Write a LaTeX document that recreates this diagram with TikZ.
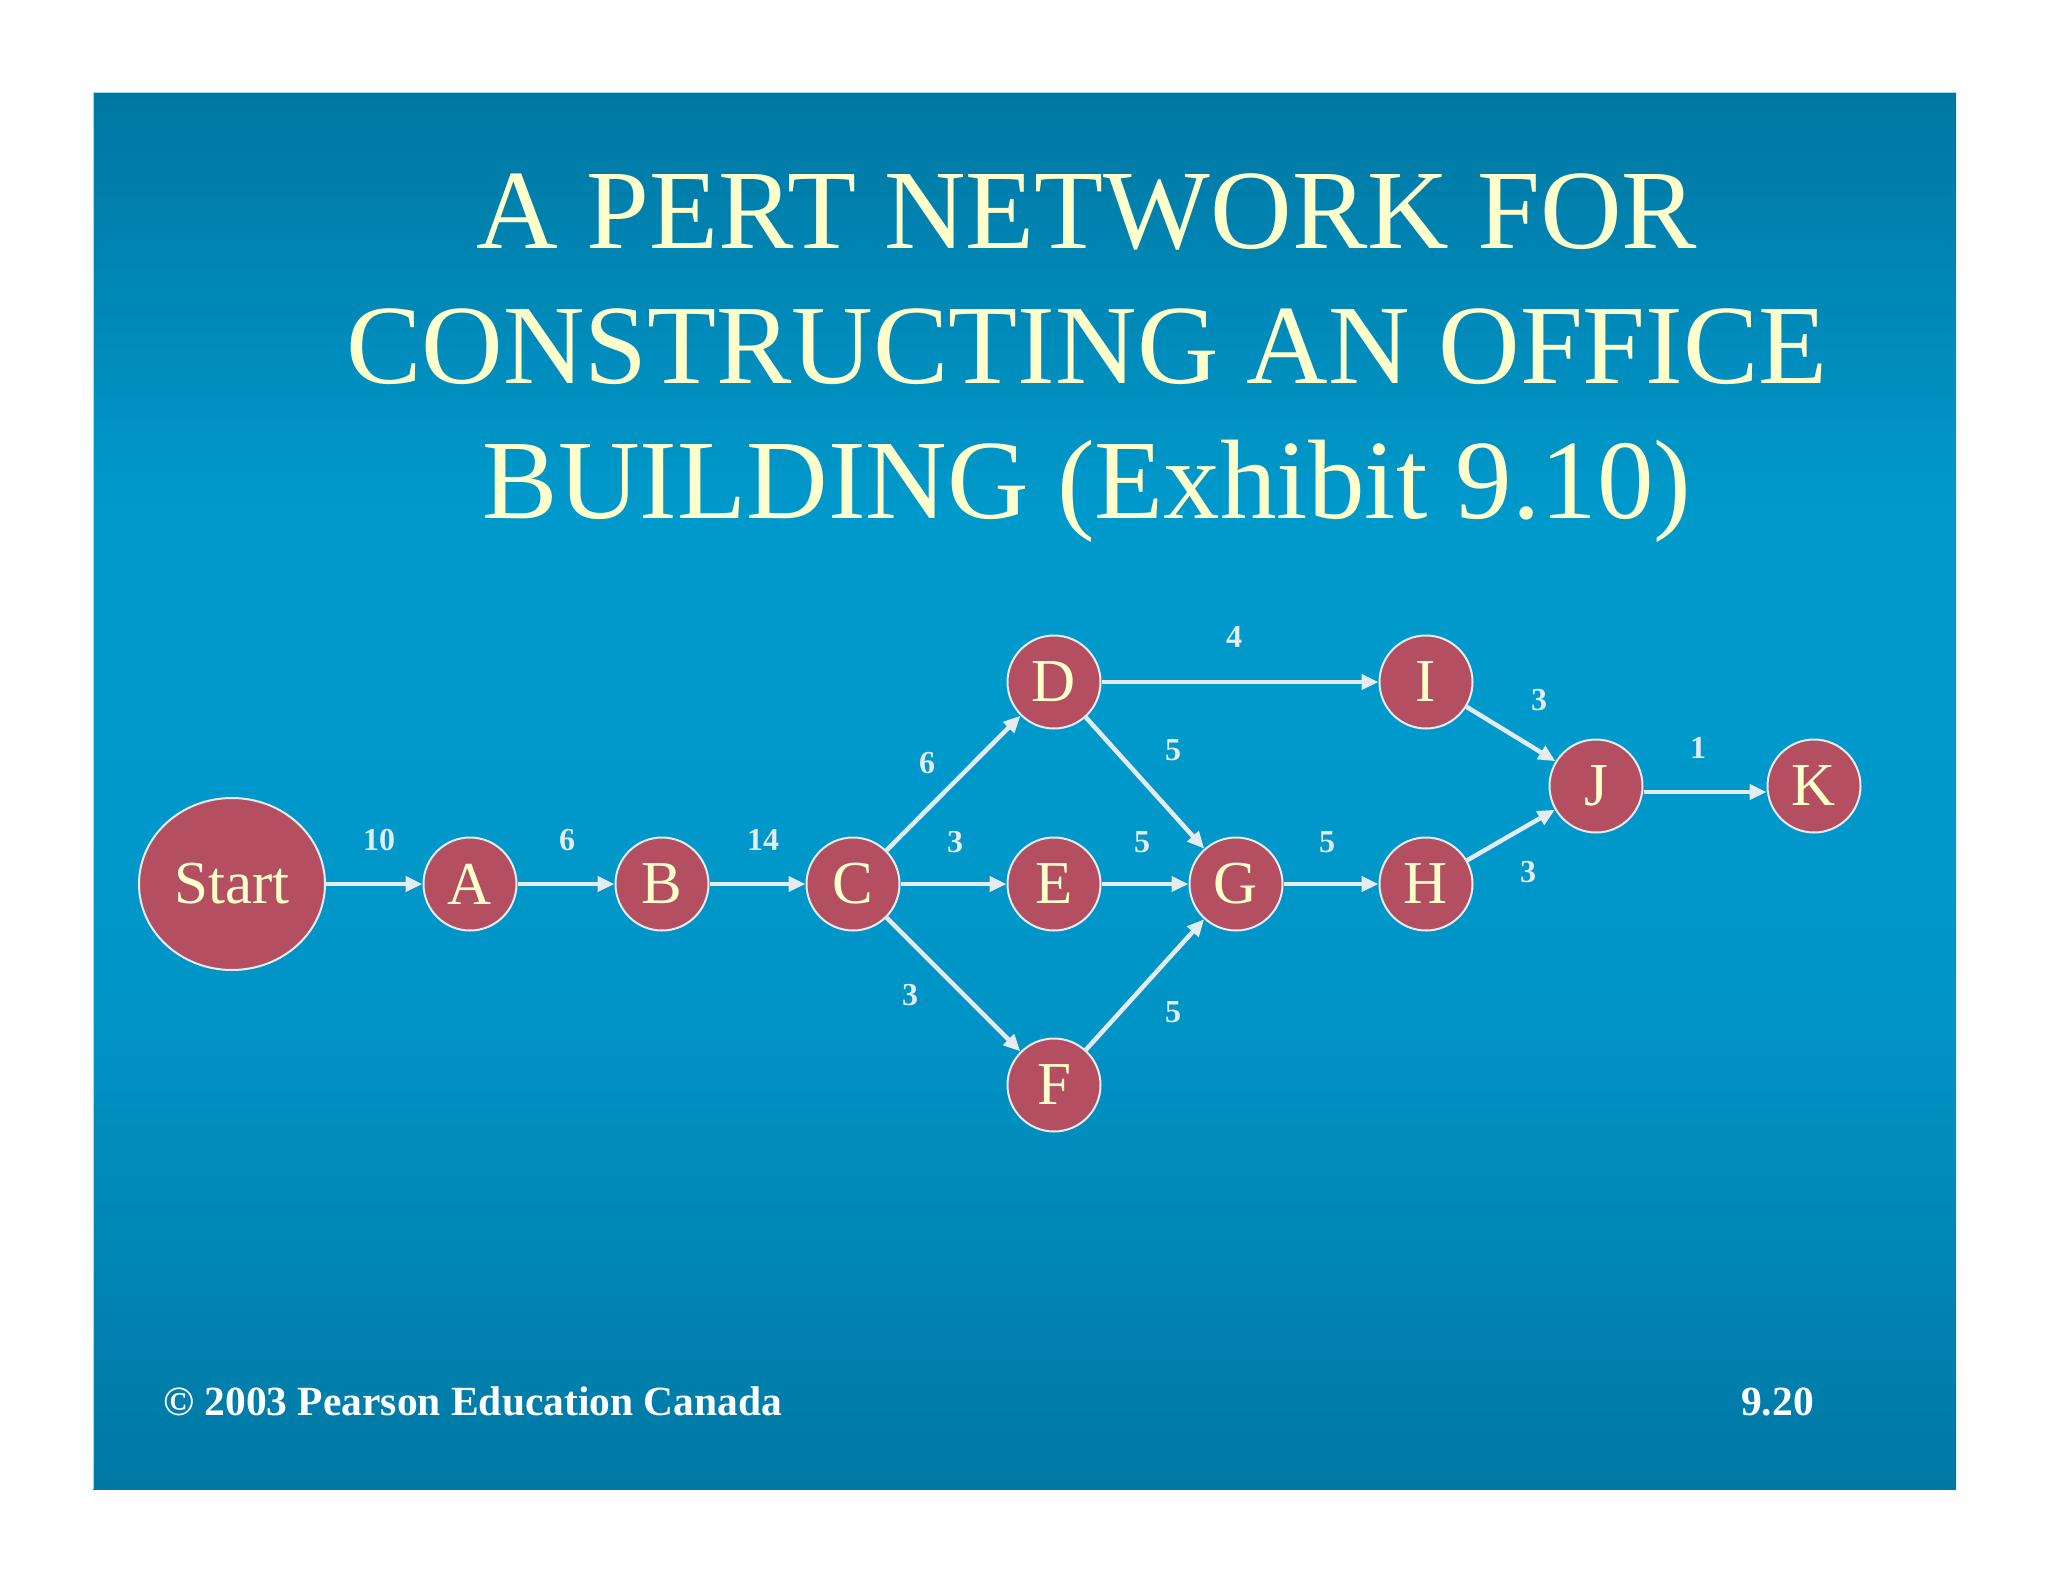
\documentclass[tikz,border=0pt]{standalone}
\usepackage{fontspec}
\setmainfont{Liberation Serif}
\usetikzlibrary{arrows.meta}
\definecolor{bgtop}{HTML}{0077A2}
\definecolor{bgmid}{HTML}{0099CC}
\definecolor{bgmid2}{HTML}{0094C6}
\definecolor{bgbot}{HTML}{0078A4}
\definecolor{cream}{HTML}{FFFFCC}
\definecolor{nodefill}{HTML}{B44F61}
\definecolor{edgecol}{HTML}{E4ECF1}
\pgfdeclareverticalshading{panelbg}{100bp}{color(0bp)=(bgbot); color(25bp)=(bgbot); color(42bp)=(bgmid2); color(52bp)=(bgmid); color(60bp)=(bgmid); color(75bp)=(bgtop); color(100bp)=(bgtop)}
\tikzset{
  evt/.style={circle, draw=edgecol, line width=2pt, fill=nodefill, text=cream, minimum size=93pt, inner sep=0pt, font=\fontsize{61}{61}\selectfont},
  startevt/.style={ellipse, draw=edgecol, line width=2pt, fill=nodefill, text=cream, minimum width=186pt, minimum height=172pt, inner sep=0pt, font=\fontsize{61}{61}\selectfont},
  conn/.style={draw=edgecol, line width=4.5pt, -{Triangle[length=17pt,width=15pt]}},
  dur/.style={text=edgecol, font=\fontsize{32}{32}\selectfont\bfseries, inner sep=0pt},
  titleline/.style={text=cream, font=\fontsize{113}{113}\selectfont, inner sep=0pt, anchor=base},
  foot/.style={text=white, font=\fontsize{41.5}{41.5}\selectfont\bfseries, inner sep=0pt, anchor=base west}
}
\usetikzlibrary{shapes.geometric}
\begin{document}
\begin{tikzpicture}[x=1pt,y=-1pt]
\useasboundingbox (0,0) rectangle (2048,1582);
\fill[white] (0,0) rectangle (2048,1582);
\shade[shading=panelbg] (93,92) rectangle (1956,1489);
\draw[color=cyan!40!white, line width=1pt] (93,1489) -- (93,92) -- (1956,92);

\node[titleline] (t1) at (1087,248) {A PERT NETWORK FOR};
\node[titleline] (t2) at (1087,383) {CONSTRUCTING AN OFFICE};
\node[titleline] (t3) at (1087,518) {BUILDING (Exhibit 9.10)};

\node[startevt] (S) at (232,884) {Start};
\node[evt] (A) at (470,884) {A};
\node[evt] (B) at (662,884) {B};
\node[evt] (C) at (853,884) {C};
\node[evt] (D) at (1054,682) {D};
\node[evt] (E) at (1054,884) {E};
\node[evt] (F) at (1054,1085) {F};
\node[evt] (G) at (1236,884) {G};
\node[evt] (H) at (1426,884) {H};
\node[evt] (I) at (1426,682) {I};
\node[evt] (J) at (1596,786) {J};
\node[evt] (K) at (1814,786) {K};

\draw[conn] (S) -- (A);
\draw[conn] (A) -- (B);
\draw[conn] (B) -- (C);
\draw[conn] (C) -- (D);
\draw[conn] (C) -- (E);
\draw[conn] (C) -- (F);
\draw[conn] (D) -- (G);
\draw[conn] (E) -- (G);
\draw[conn] (F) -- (G);
\draw[conn] (D) -- (I);
\draw[conn] (G) -- (H);
\draw[conn] (I) -- (J);
\draw[conn] (H) -- (J);
\draw[conn] ([yshift=-6pt]J.east) -- ([yshift=-6pt]K.west);

\node[dur] (l1) at (379,840) {10};
\node[dur] (l2) at (567,840) {6};
\node[dur] (l3) at (763,840) {14};
\node[dur] (l4) at (927,763) {6};
\node[dur] (l5) at (955,842) {3};
\node[dur] (l6) at (910,995) {3};
\node[dur] (l7) at (1173,750) {5};
\node[dur] (l8) at (1142,842) {5};
\node[dur] (l9) at (1173,1012) {5};
\node[dur] (l10) at (1327,842) {5};
\node[dur] (l11) at (1234,637) {4};
\node[dur] (l12) at (1539,700) {3};
\node[dur] (l13) at (1528,872) {3};
\node[dur] (l14) at (1698,748) {1};

\node[foot] (f1) at (163,1415) {© 2003 Pearson Education Canada};
\node[foot] (f2) at (1741,1415) {9.20};
\end{tikzpicture}
\end{document}
